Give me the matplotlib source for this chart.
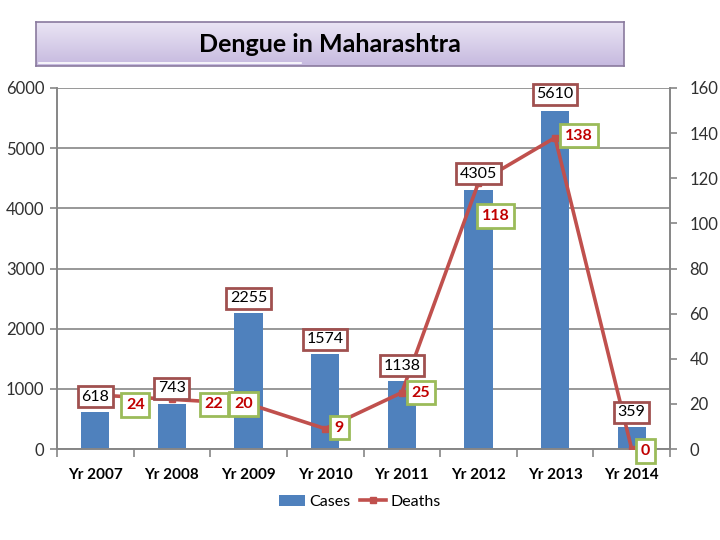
import matplotlib
matplotlib.use("Agg")
import matplotlib.pyplot as plt
import numpy as np
from matplotlib.lines import Line2D
from matplotlib.patches import Patch
from matplotlib.colors import LinearSegmentedColormap

plt.rcParams['font.family'] = ['Lato', 'DejaVu Sans']

years = ["Yr 2007", "Yr 2008", "Yr 2009", "Yr 2010", "Yr 2011", "Yr 2012", "Yr 2013", "Yr 2014"]
cases = [618, 743, 2255, 1574, 1138, 4305, 5610, 359]
deaths = [24, 22, 20, 9, 25, 118, 138, 0]

# label offsets in pixels (style)
case_off = [(0, 15), (0, 16), (0, 15), (0, 15), (0, 15), (0, 16), (0, 17), (0, 15)]
death_off = [(40, -10), (42, -5), (-5, 0), (14, 1), (19, 0), (17, -33), (24, 2), (14, -2)]

fig = plt.figure(figsize=(7.2, 5.4), dpi=100)
ax = fig.add_axes([57/720, 1-449/540, 613/720, 361/540])
ax2 = ax.twinx()

x = np.arange(len(years))
blue = '#4F81BD'
red = '#C0504D'
grid_c = '#868686'

ax.bar(x, cases, width=0.37, color=blue, zorder=2)
ax.set_xlim(-0.5, len(years) - 0.5)
ax.set_ylim(0, 6000)
ax.set_yticks(np.arange(0, 6001, 1000))
ax.yaxis.grid(True, color=grid_c, linewidth=1.2, zorder=0)
ax.set_axisbelow(True)
ax.set_xticks(x)
ax.set_xticklabels(years, fontweight='bold', fontsize=11, color='#000000')
ax.set_xticks(np.arange(-0.5, len(years), 1), minor=True)
ax.tick_params(axis='x', which='major', length=0, pad=14)
ax.tick_params(axis='x', which='minor', length=6, color=grid_c, width=1.2)
ax.tick_params(axis='y', length=5, color=grid_c, width=1.2, labelsize=12, labelcolor='#303030', pad=4)

ax2.plot(x, deaths, color=red, linewidth=2.6, marker='s', markersize=4.5, zorder=3)
ax2.set_ylim(0, 160)
ax2.set_yticks(np.arange(0, 161, 20))
ax2.tick_params(axis='y', length=5, color=grid_c, width=1.2, labelsize=12, labelcolor='#303030', pad=9)

for a in (ax, ax2):
    a.spines['top'].set_visible(False)
    for s in ('left', 'right', 'bottom'):
        a.spines[s].set_color(grid_c)
        a.spines[s].set_linewidth(1.2)

for i, v in enumerate(cases):
    ax2.annotate(str(v), xy=(i, v), xycoords=ax.transData, xytext=case_off[i], textcoords='offset pixels',
                 ha='center', va='center', fontsize=11.5, color='black', zorder=5,
                 bbox=dict(boxstyle='square,pad=0.22', fc='white', ec='#A0504F', lw=2))

for i, v in enumerate(deaths):
    ax2.annotate(str(v), xy=(i, v), xytext=death_off[i], textcoords='offset pixels',
                 ha='center', va='center', fontsize=11.5, color='#C00000', fontweight='bold', zorder=6,
                 bbox=dict(boxstyle='square,pad=0.3', fc='white', ec='#9BBB59', lw=2))

handles = [Patch(facecolor=blue, edgecolor='none', label='Cases'),
           Line2D([0], [0], color=red, lw=2.6, marker='s', markersize=4.5, label='Deaths')]
fig.legend(handles=handles, loc='center', bbox_to_anchor=(360/720, 1-502/540), ncol=2,
           frameon=False, fontsize=11.5, handlelength=1.6, handletextpad=0.3, columnspacing=0.6)

# title box
tax = fig.add_axes([36/720, 1-66/540, 588/720, 44/540])
grad = np.linspace(0, 1, 100).reshape(-1, 1)
cmap = LinearSegmentedColormap.from_list('t', ['#EAE5F4', '#C6B9DF'])
tax.imshow(grad, aspect='auto', cmap=cmap, extent=(0, 1, 0, 1), origin='upper')
tax.set_xlim(0, 1)
tax.set_ylim(0, 1)
tax.set_xticks([])
tax.set_yticks([])
for s in tax.spines.values():
    s.set_color('#8A7A9E')
    s.set_linewidth(1.2)
tax.plot([0.005, 0.45], [0.06, 0.06], color='white', lw=1.2)
tax.text(0.5, 0.5, 'Dengue in Maharashtra', ha='center', va='center',
         fontsize=18, fontweight='bold', color='black', transform=tax.transAxes)

fig.savefig('out.png', dpi=100)
